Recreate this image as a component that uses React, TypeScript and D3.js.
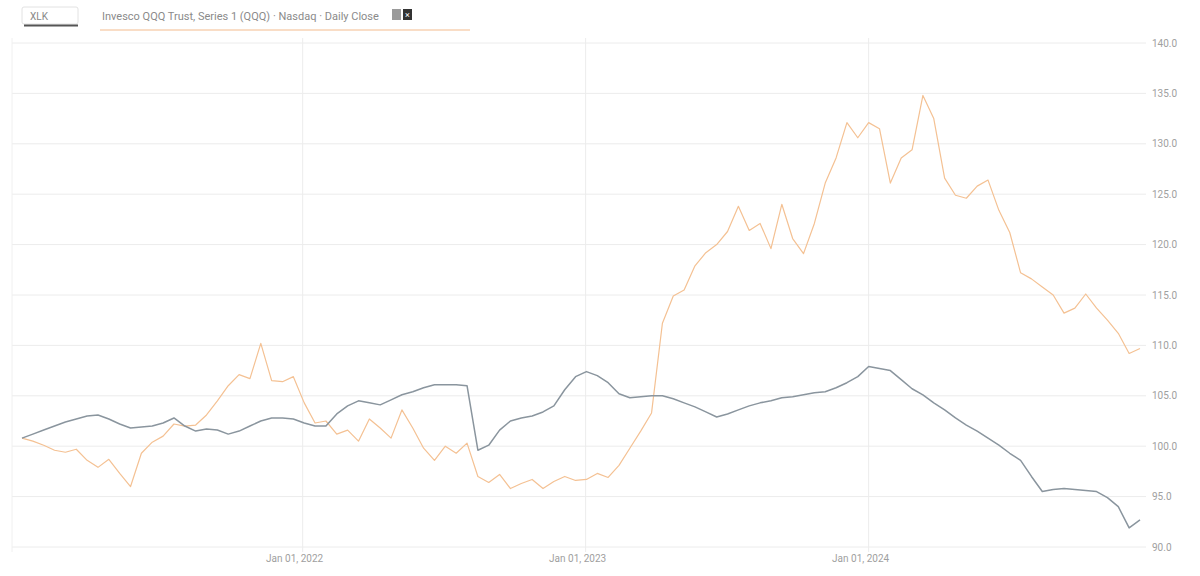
import React from "react";
import * as d3 from "d3";

const dates: string[] = [
  "2021-01-04","2021-01-18","2021-02-01","2021-02-15","2021-03-01","2021-03-15","2021-03-29","2021-04-12","2021-04-26","2021-05-10","2021-05-24","2021-06-07","2021-06-21","2021-07-05","2021-07-19","2021-08-02","2021-08-16","2021-08-30","2021-09-13","2021-09-27","2021-10-11","2021-10-25","2021-11-08","2021-11-22","2021-12-06","2021-12-20",
  "2022-01-03","2022-01-17","2022-01-31","2022-02-14","2022-02-28","2022-03-14","2022-03-28","2022-04-11","2022-04-25","2022-05-09","2022-05-23","2022-06-06","2022-06-20","2022-07-04","2022-07-18","2022-08-01","2022-08-15","2022-08-29","2022-09-12","2022-09-26","2022-10-10","2022-10-24","2022-11-07","2022-11-21","2022-12-05","2022-12-19",
  "2023-01-02","2023-01-16","2023-01-30","2023-02-13","2023-02-27","2023-03-13","2023-03-27","2023-04-10","2023-04-24","2023-05-08","2023-05-22","2023-06-05","2023-06-19","2023-07-03","2023-07-17","2023-07-31","2023-08-14","2023-08-28","2023-09-11","2023-09-25","2023-10-09","2023-10-23","2023-11-06","2023-11-20","2023-12-04","2023-12-18",
  "2024-01-01","2024-01-15","2024-01-29","2024-02-12","2024-02-26","2024-03-11","2024-03-25","2024-04-08","2024-04-22","2024-05-06","2024-05-20","2024-06-03","2024-06-17","2024-07-01","2024-07-15","2024-07-29","2024-08-12","2024-08-26","2024-09-09","2024-09-23","2024-10-07","2024-10-21","2024-11-04","2024-11-18","2024-12-02","2024-12-16"
];

const graySeries: number[] = [
  100.8,101.2,101.6,102.0,102.4,102.7,103.0,103.1,102.7,102.2,101.8,101.9,102.0,102.3,102.8,102.0,101.5,101.7,101.6,101.2,101.5,102.0,102.5,102.8,102.8,102.7,
  102.3,102.0,102.0,103.2,104.0,104.5,104.3,104.1,104.6,105.1,105.4,105.8,106.1,106.1,106.1,106.0,99.6,100.1,101.6,102.5,102.8,103.0,103.4,104.0,105.6,106.9,
  107.4,107.0,106.3,105.2,104.8,104.9,105.0,105.0,104.7,104.3,103.9,103.4,102.9,103.2,103.6,104.0,104.3,104.5,104.8,104.9,105.1,105.3,105.4,105.8,106.3,106.9,
  107.9,107.7,107.5,106.6,105.7,105.1,104.3,103.6,102.8,102.1,101.5,100.8,100.1,99.3,98.6,97.0,95.5,95.7,95.8,95.7,95.6,95.5,94.9,94.0,91.9,92.7
];

const orangeSeries: number[] = [
  100.8,100.5,100.1,99.6,99.4,99.7,98.6,97.9,98.7,97.3,96.0,99.3,100.4,101.0,102.2,102.0,102.1,103.1,104.5,106.0,107.1,106.7,110.2,106.5,106.4,106.9,
  104.3,102.3,102.5,101.2,101.6,100.5,102.7,101.8,100.8,103.6,101.8,99.8,98.6,100.0,99.3,100.3,97.0,96.4,97.2,95.8,96.3,96.7,95.8,96.5,97.0,96.6,
  96.7,97.3,96.9,98.1,99.8,101.5,103.3,112.2,114.9,115.5,117.9,119.2,120.0,121.3,123.8,121.4,122.1,119.6,124.0,120.6,119.1,122.1,126.1,128.6,132.1,130.6,
  132.1,131.5,126.1,128.6,129.4,134.8,132.5,126.6,124.9,124.6,125.8,126.4,123.4,121.2,117.2,116.6,115.8,115.0,113.2,113.7,115.1,113.7,112.5,111.2,109.2,109.7
];

const yTicks: number[] = [90, 95, 100, 105, 110, 115, 120, 125, 130, 135, 140];
const xTickDates: string[] = ["2022-01-01", "2023-01-01", "2024-01-01"];
const xTickLabels: string[] = ["Jan 01, 2022", "Jan 01, 2023", "Jan 01, 2024"];

const legendGray = "XLK";
const legendOrange = "Invesco QQQ Trust, Series 1 (QQQ) · Nasdaq · Daily Close";

const W = 1200;
const H = 576;
const GRAY = "#8a959e";
const ORANGE = "#f4c193";

export default function App() {
  const parse = d3.timeParse("%Y-%m-%d");
  const ds = dates.map((d) => parse(d) as Date);
  const x = d3.scaleTime().domain([ds[0], ds[ds.length - 1]]).range([22, 1140]);
  const y = d3.scaleLinear().domain([90, 140]).range([547, 43]);
  const line = d3
    .line<number>()
    .x((_, i) => x(ds[i]))
    .y((v) => y(v));

  return (
    <svg
      width={W}
      height={H}
      style={{ position: "absolute", left: 0, top: 0, background: "#fff", fontFamily: "Roboto, Arial, sans-serif" }}
    >
      {yTicks.map((t) => (
        <line key={"h" + t} x1={12} x2={1146} y1={y(t)} y2={y(t)} stroke="#ececec" strokeWidth={1} />
      ))}
      <line x1={12} x2={12} y1={38} y2={552} stroke="#f0f0f0" />
      {xTickDates.map((d) => {
        const xx = x(parse(d) as Date);
        return <line key={"v" + d} x1={xx} x2={xx} y1={38} y2={552} stroke="#ececec" strokeWidth={1} />;
      })}
      {yTicks.map((t) => (
        <text key={"yl" + t} x={1152} y={y(t)} dy="0.35em" fontSize={10} fill="#a0a0a0">
          {t.toFixed(1)}
        </text>
      ))}
      {xTickDates.map((d, i) => (
        <text key={"xl" + d} x={x(parse(d) as Date) - 8} y={562} textAnchor="middle" fontSize={10} fill="#a0a0a0">
          {xTickLabels[i]}
        </text>
      ))}
      <path d={line(orangeSeries) || ""} fill="none" stroke={ORANGE} strokeWidth={1.2} strokeLinejoin="round" />
      <path d={line(graySeries) || ""} fill="none" stroke={GRAY} strokeWidth={1.5} strokeLinejoin="round" />
      <rect x={22} y={7} width={56} height={17} fill="#fff" stroke="#e2e2e2" rx={2} />
      <text x={30} y={19.5} fontSize={10} fill="#888">{legendGray}</text>
      <line x1={24} x2={78} y1={25.5} y2={25.5} stroke="#555" strokeWidth={2} />
      <text x={102} y={19.5} fontSize={11} fill="#8a8a8a">{legendOrange}</text>
      <line x1={100} x2={470} y1={30} y2={30} stroke={ORANGE} strokeWidth={1.5} opacity={0.7} />
      <rect x={392} y={9} width={9} height={11} fill="#9a9a9a" />
      <rect x={403} y={9} width={9} height={11} fill="#333" />
      <text x={407.5} y={18} fontSize={9} fill="#fff" textAnchor="middle">×</text>
    </svg>
  );
}
